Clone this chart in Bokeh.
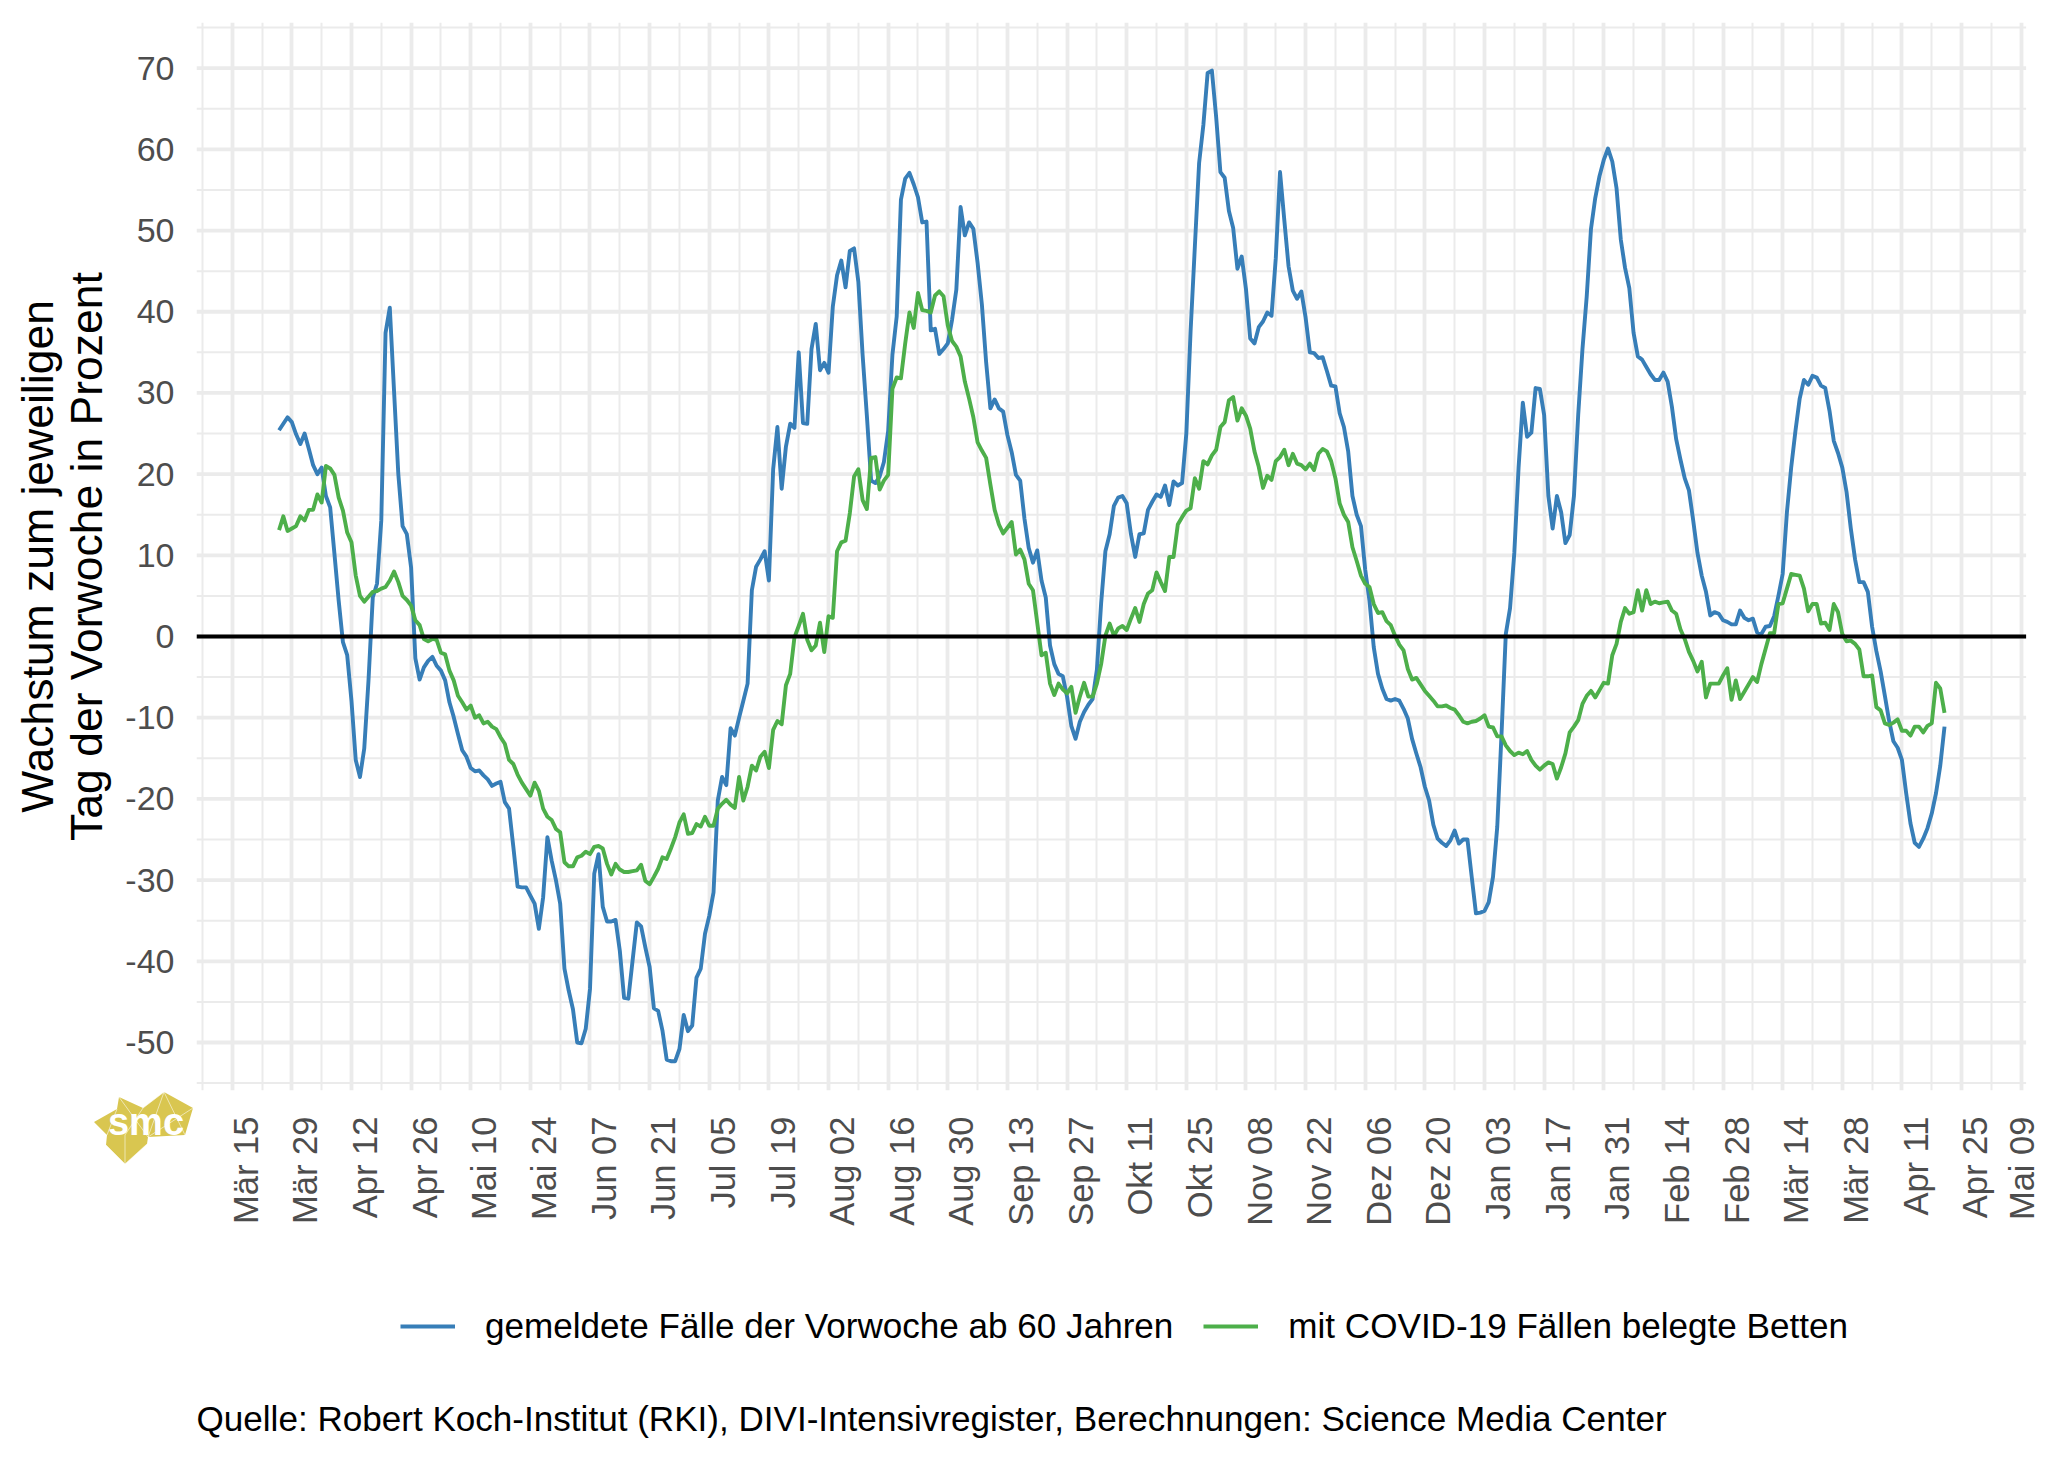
import pandas as pd
from math import pi
from bokeh.plotting import figure
from bokeh.layouts import column
from bokeh.embed import file_html
from bokeh.resources import INLINE
from bokeh.models import (FixedTicker, Grid, LinearAxis, Range1d, Label, Legend, LegendItem, Div)

start_date = "2020-03-26"

faelle_60plus = [
 25.4,26.2,27.0,26.4,24.9,23.7,25.0,23.1,21.1,20.0,20.8,17.3,15.9,10.2,4.4,-0.7,-2.3,-7.9,-15.2,-17.3,
 -13.8,-5.4,4.8,6.5,14.3,37.4,40.5,30.2,20.0,13.6,12.6,8.5,-2.7,-5.3,-3.8,-3.0,-2.5,-3.6,-4.2,-5.4,
 -8.1,-9.9,-12.0,-14.0,-14.8,-16.2,-16.6,-16.5,-17.1,-17.6,-18.4,-18.1,-17.9,-20.4,-21.2,-25.9,-30.8,-30.9,-30.9,-31.9,
 -32.9,-36.0,-32.1,-24.7,-27.6,-30.0,-32.9,-40.9,-43.6,-45.9,-50.0,-50.1,-48.3,-43.4,-29.2,-26.8,-33.3,-35.1,-35.1,-34.9,
 -38.7,-44.5,-44.6,-39.9,-35.2,-35.7,-38.3,-40.7,-45.8,-46.1,-48.5,-52.1,-52.3,-52.3,-50.8,-46.6,-48.6,-47.9,-42.0,-40.9,
 -36.6,-34.4,-31.5,-20.2,-17.3,-18.3,-11.3,-12.2,-10.0,-7.9,-5.8,5.7,8.6,9.5,10.5,6.9,20.6,25.8,18.2,23.4,
 26.2,25.7,35.0,26.3,26.2,35.4,38.5,32.8,33.7,32.5,40.6,44.5,46.3,43.0,47.5,47.8,43.7,34.7,27.2,19.2,
 18.9,19.7,21.5,25.3,34.7,39.4,53.8,56.4,57.1,55.7,54.1,51.0,51.1,37.7,37.9,34.8,35.4,36.1,39.0,42.7,
 52.9,49.4,51.0,50.2,46.0,40.9,33.8,28.1,29.2,28.1,27.7,24.8,22.7,19.9,19.2,14.5,10.9,9.1,10.6,6.9,
 4.8,-1.1,-3.4,-4.6,-4.9,-7.4,-11.0,-12.6,-10.5,-9.3,-8.4,-7.7,-4.1,4.1,10.5,12.6,16.1,17.1,17.3,16.4,
 12.6,9.8,12.6,12.7,15.6,16.6,17.5,17.2,18.6,16.2,19.1,18.6,18.9,25.0,37.6,48.0,58.3,63.0,69.4,69.7,
 64.0,57.2,56.5,52.4,50.3,45.3,46.8,42.8,36.7,36.1,38.1,38.8,39.9,39.5,46.6,57.2,51.3,45.6,42.6,41.6,
 42.5,39.3,35.0,34.9,34.3,34.4,32.7,30.9,30.8,27.5,25.8,22.8,17.3,15.0,13.6,8.2,4.4,-1.3,-4.6,-6.4,
 -7.7,-7.9,-7.7,-7.9,-8.9,-10.1,-12.6,-14.4,-16.1,-18.5,-20.2,-23.2,-24.9,-25.4,-25.8,-25.1,-23.9,-25.5,-25.0,-25.0,
 -29.6,-34.1,-34.0,-33.8,-32.7,-29.6,-23.4,-12.0,0.3,3.5,10.3,20.8,28.8,24.6,25.1,30.6,30.5,27.3,17.3,13.3,
 17.3,15.3,11.5,12.5,17.3,27.3,35.4,41.9,50.2,54.0,56.7,58.7,60.1,58.5,55.2,48.9,45.4,42.9,37.4,34.5,
 34.1,33.2,32.3,31.6,31.6,32.5,31.4,28.3,24.3,21.8,19.5,18.0,14.3,10.3,7.5,5.5,2.6,3.0,2.8,2.0,
 1.8,1.5,1.5,3.2,2.3,2.0,2.2,0.5,0.3,1.2,1.3,2.5,5.0,7.7,15.3,20.8,25.3,29.3,31.6,31.0,
 32.1,31.9,30.9,30.6,27.8,24.1,22.6,20.8,17.8,13.3,9.5,6.7,6.7,5.5,1.2,-1.8,-4.3,-7.3,-10.4,-12.9,
 -13.7,-15.2,-19.3,-23.0,-25.4,-25.9,-24.9,-23.6,-21.8,-19.3,-15.9,-11.1]

belegte_betten = [
 13.1,14.8,13.0,13.3,13.6,14.8,14.3,15.6,15.6,17.5,16.5,21.0,20.7,19.9,17.1,15.5,12.8,11.6,7.5,5.0,
 4.3,4.9,5.5,5.6,5.9,6.1,6.9,8.0,6.7,5.0,4.5,3.8,2.0,1.4,-0.3,-0.6,-0.3,-0.4,-2.0,-2.2,
 -4.2,-5.4,-7.3,-8.1,-9.0,-8.5,-10.0,-9.7,-10.7,-10.5,-11.1,-11.4,-12.4,-13.2,-15.2,-15.7,-17.0,-18.0,-18.8,-19.6,
 -18.0,-19.0,-21.2,-22.2,-22.6,-23.7,-24.1,-27.8,-28.3,-28.3,-27.2,-27.0,-26.5,-26.8,-25.9,-25.8,-26.1,-28.0,-29.3,-28.0,
 -28.7,-29.0,-29.0,-28.9,-28.8,-28.1,-30.1,-30.5,-29.6,-28.6,-27.2,-27.4,-26.1,-24.7,-22.9,-21.9,-24.3,-24.2,-23.1,-23.4,
 -22.2,-23.3,-23.3,-21.2,-20.6,-20.1,-20.7,-21.1,-17.3,-20.2,-18.5,-15.9,-16.5,-14.8,-14.2,-16.2,-11.5,-10.4,-10.8,-6.0,
 -4.6,-0.1,1.3,2.8,-0.4,-1.7,-1.1,1.7,-1.9,2.5,2.3,10.5,11.6,11.8,15.2,19.7,20.6,16.8,15.7,22.0,
 22.1,18.1,19.2,19.9,30.5,31.9,31.8,36.1,39.9,38.0,42.3,40.2,40.1,39.9,42.0,42.5,41.9,38.3,36.4,35.7,
 34.5,31.4,29.3,27.0,23.9,22.9,22.0,18.7,15.6,13.8,12.7,13.4,14.1,10.1,10.7,9.5,6.5,5.7,1.7,-2.3,
 -2.0,-5.8,-7.2,-5.8,-6.5,-7.0,-6.2,-9.4,-7.4,-5.7,-7.4,-7.4,-5.8,-3.4,0.1,1.6,0.1,1.0,1.3,0.8,
 2.2,3.5,1.8,4.0,5.3,5.7,7.9,6.7,5.6,9.8,9.8,13.8,14.7,15.5,15.8,19.5,18.2,21.6,21.2,22.3,
 23.0,25.8,26.4,29.1,29.5,26.6,28.1,27.2,25.6,22.8,20.9,18.3,19.8,19.3,21.6,22.1,23.0,21.1,22.5,21.3,
 21.1,20.6,21.3,20.5,22.5,23.1,22.8,21.6,19.5,16.4,15.0,14.1,11.0,9.3,7.5,6.5,6.1,4.0,2.9,3.0,
 1.9,1.4,0.1,-1.0,-1.7,-4.0,-5.3,-5.1,-5.9,-6.7,-7.3,-7.9,-8.6,-8.6,-8.5,-8.8,-9.0,-9.7,-10.5,-10.7,
 -10.5,-10.4,-10.1,-9.7,-11.1,-11.2,-12.3,-12.3,-13.4,-14.1,-14.6,-14.3,-14.5,-14.1,-15.2,-15.9,-16.4,-15.9,-15.5,-15.7,
 -17.5,-16.1,-14.4,-11.8,-11.1,-10.3,-8.3,-7.3,-6.7,-7.5,-6.6,-5.7,-5.8,-2.3,-0.9,1.8,3.5,2.8,3.0,5.7,
 3.2,5.7,4.0,4.3,4.1,4.2,4.3,3.2,2.8,0.9,-0.3,-1.9,-3.0,-4.3,-3.1,-7.5,-5.8,-5.8,-5.8,-4.8,
 -3.9,-7.8,-5.4,-7.7,-6.8,-5.9,-5.0,-5.6,-3.4,-1.5,0.4,0.4,4.0,4.1,5.9,7.7,7.6,7.5,5.9,3.1,
 4.0,4.0,1.6,1.7,0.8,4.0,3.0,0.3,-0.6,-0.5,-0.9,-1.6,-4.9,-4.9,-4.8,-8.7,-9.1,-10.7,-10.9,-10.6,
 -10.2,-11.6,-11.6,-12.2,-11.1,-11.1,-11.8,-11.0,-10.7,-5.7,-6.4,-9.4]

tick_dates = pd.date_range("2020-03-15", periods=31, freq="14D")
tick_labels = ["Mär 15","Mär 29","Apr 12","Apr 26","Mai 10","Mai 24","Jun 07","Jun 21","Jul 05","Jul 19",
               "Aug 02","Aug 16","Aug 30","Sep 13","Sep 27","Okt 11","Okt 25","Nov 08","Nov 22","Dez 06",
               "Dez 20","Jan 03","Jan 17","Jan 31","Feb 14","Feb 28","Mär 14","Mär 28","Apr 11","Apr 25","Mai 09"]
y_ticks = list(range(-50, 80, 10))
y_minor = list(range(-55, 80, 10))
series_names = ["gemeldete Fälle der Vorwoche ab 60 Jahren", "mit COVID-19 Fällen belegte Betten"]
y_title = "Wachstum zum jeweiligen\nTag der Vorwoche in Prozent"
caption = "Quelle: Robert Koch-Institut (RKI), DIVI-Intensivregister, Berechnungen: Science Media Center"

FONT = "Liberation Sans"
BLUE, GREEN = "#377EB8", "#4DAF4A"
DAY = 86400000.0
def ms(d):
    return float(pd.Timestamp(d).value // 1000000)

x_blue = [ms(d) for d in pd.date_range(start_date, periods=len(faelle_60plus), freq="D")]
x_green = [ms(d) for d in pd.date_range(start_date, periods=len(belegte_betten), freq="D")]
major_x = [ms(d) for d in tick_dates]
minor_x = [m - 7 * DAY for m in major_x]

PER_DAY = 4.2595           # page pixels per day
PAGE_L, PAGE_R = 196.0, 2040.0
x0 = major_x[0] + (PAGE_L - 231.7) / PER_DAY * DAY
x1 = major_x[0] + (PAGE_R - 231.7) / PER_DAY * DAY
panel_end = major_x[0] + (2025.6 - 231.7) / PER_DAY * DAY

p = figure(width=2040, height=1240, output_backend="svg", toolbar_location=None,
           x_axis_location=None, x_range=Range1d(x0, x1), y_range=Range1d(-55.91, 75.62),
           min_border_left=196, min_border_top=22, min_border_right=0, min_border_bottom=150,
           outline_line_color=None, background_fill_color="white", border_fill_color="white")
p.center = []

p.add_layout(Grid(dimension=0, ticker=FixedTicker(ticks=major_x, minor_ticks=minor_x),
                  grid_line_color="#EBEBEB", grid_line_width=3.8,
                  minor_grid_line_color="#EBEBEB", minor_grid_line_width=2.0), "center")
p.segment(x0=[x0] * len(y_ticks), x1=[panel_end] * len(y_ticks), y0=y_ticks, y1=y_ticks,
          line_color="#EBEBEB", line_width=3.8, level="underlay")
p.segment(x0=[x0] * len(y_minor), x1=[panel_end] * len(y_minor), y0=y_minor, y1=y_minor,
          line_color="#EBEBEB", line_width=2.0, level="underlay")

SHIFT = 3.2 * DAY
p.extra_x_ranges["tick_labels"] = Range1d(x0 - SHIFT, x1 - SHIFT)
xax = LinearAxis(x_range_name="tick_labels", ticker=FixedTicker(ticks=major_x),
                 major_label_overrides=dict(zip(major_x, tick_labels)),
                 major_label_orientation=pi / 2, major_label_standoff=20,
                 major_label_text_font=FONT, major_label_text_font_size="34.5px",
                 major_label_text_color="#4D4D4D", major_tick_line_color=None,
                 minor_tick_line_color=None, axis_line_color=None)
p.add_layout(xax, "below")

yax = p.yaxis[0]
yax.ticker = FixedTicker(ticks=y_ticks)
yax.major_label_overrides = {t: str(t) for t in y_ticks}
yax.major_label_text_font = FONT
yax.major_label_text_font_size = "34px"
yax.major_label_text_color = "#4D4D4D"
yax.major_label_standoff = 16
yax.major_tick_line_color = None
yax.minor_tick_line_color = None
yax.axis_line_color = None
yax.axis_label = y_title
yax.axis_label_text_font = FONT
yax.axis_label_text_font_size = "44.5px"
yax.axis_label_text_font_style = "normal"
yax.axis_label_text_color = "black"
yax.axis_label_text_line_height = 1.0
yax.axis_label_standoff = 11

p.line(x_blue, faelle_60plus, line_color=BLUE, line_width=3.9, line_join="round")
p.line(x_green, belegte_betten, line_color=GREEN, line_width=3.9, line_join="round")
p.segment(x0=[x0], x1=[panel_end], y0=[0], y1=[0], line_color="black", line_width=4.0)

# lower strip of the page: legend and source line
# (the series are out of this strip's range, so only their legend keys show)
foot = figure(width=2040, height=214, output_backend="svg", toolbar_location=None,
              x_axis_location=None, y_axis_location=None, x_range=Range1d(0, 1), y_range=Range1d(0, 1),
              min_border=0, outline_line_color=None, background_fill_color="white",
              border_fill_color="white")
foot.center = []
k1 = foot.line(x_blue, faelle_60plus, line_color=BLUE, line_width=3.9)
k2 = foot.line(x_green, belegte_betten, line_color=GREEN, line_width=3.9)
legend = Legend(items=[LegendItem(label=series_names[0], renderers=[k1]),
                       LegendItem(label=series_names[1], renderers=[k2])],
                orientation="horizontal", location=(204, 108), background_fill_alpha=0,
                border_line_alpha=0, label_text_font=FONT, label_text_font_size="35.1px",
                label_text_color="black", glyph_width=55, glyph_height=20, label_standoff=30,
                spacing=30, margin=0, padding=0)
foot.add_layout(legend, "center")
foot.add_layout(Label(x=0, y=36, x_units="screen", y_units="screen", text=caption,
                      text_font=FONT, text_font_size="35.1px", text_color="black",
                      text_baseline="alphabetic"))

# smc logo: a small inline drawing, placed over the lower left corner of the page
logo_outline = "25,5 49,16 70,0 99,16 91,43 54,45 53,52 31,72 12,53 13,43 0,30 23,17"
logo_mesh = ["70,0 91,43", "70,0 54,45", "70,0 49,16", "25,5 54,45", "99,16 54,45",
             "31,72 12,53", "31,72 53,52", "31,72 31,43", "23,17 13,43", "49,16 31,43"]
mesh = "".join(f'<polyline points="{m}" fill="none" stroke="white" stroke-width="0.7" stroke-opacity="0.8"/>' for m in logo_mesh)
logo_svg = (f'<svg width="100" height="73" xmlns="http://www.w3.org/2000/svg">'
            f'<polygon points="{logo_outline}" fill="#D9C650"/>{mesh}'
            f'<text x="52" y="43" text-anchor="middle" font-family="{FONT}" font-weight="bold" '
            f'font-size="38" fill="white">smc</text></svg>')
logo = Div(text=logo_svg, width=100, height=73,
           styles={"position": "absolute", "left": "89px", "top": "1087px"})

open("out.html", "w").write(file_html(column(p, foot, logo, spacing=0), INLINE))
